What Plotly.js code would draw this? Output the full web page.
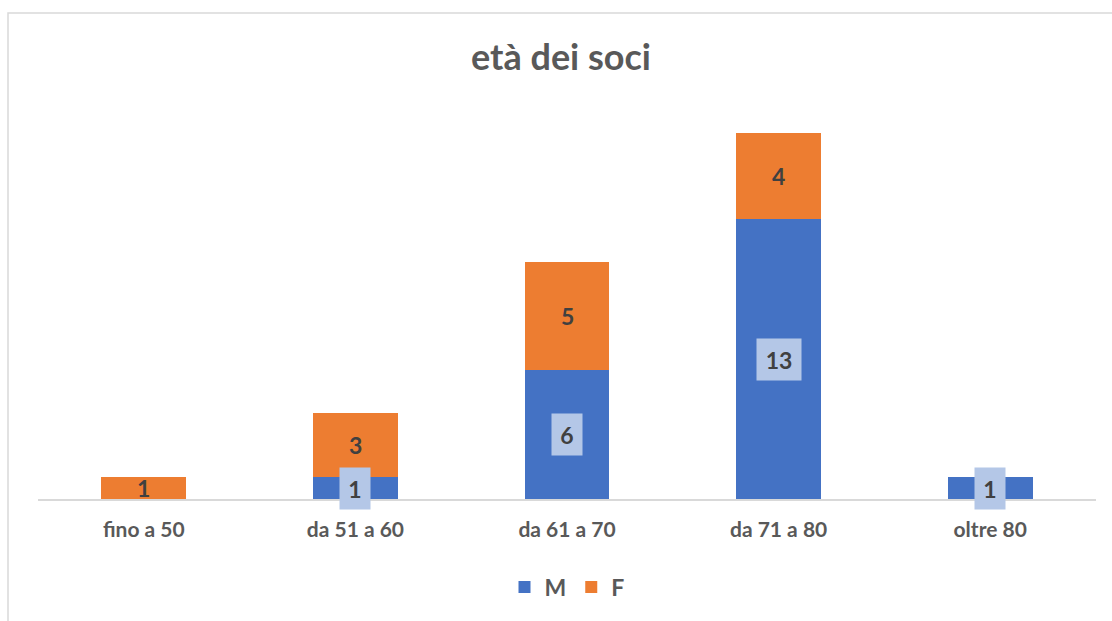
<!DOCTYPE html>
<html>
<head>
<meta charset="utf-8">
<script src="https://cdn.plot.ly/plotly-3.0.1.min.js"></script>
<style>html,body{margin:0;padding:0;background:#fff;}#chart{width:1112px;height:621px;}</style>
</head>
<body>
<div id="chart"></div>
<script>
const categories = ["fino a 50", "da 51 a 60", "da 61 a 70", "da 71 a 80", "oltre 80"];
const valuesM = [0, 1, 6, 13, 1];
const valuesF = [1, 3, 5, 4, 0];
const seriesNames = ["M", "F"];

const FONT = "Lato, 'Open Sans', sans-serif";
const blue = "#4472C4", orange = "#ED7D31";

const traces = [
  {type: "bar", name: seriesNames[0], x: categories, y: valuesM, marker: {color: blue}, hoverinfo: "skip"},
  {type: "bar", name: seriesNames[1], x: categories, y: valuesF, marker: {color: orange}, hoverinfo: "skip"}
];

const annotations = [];
categories.forEach((c, i) => {
  if (valuesM[i] > 0) {
    const t = String(valuesM[i]);
    annotations.push({x: c, y: valuesM[i] / 2, xref: "x", yref: "y", text: "<b>" + t + "</b>",
      showarrow: false, bgcolor: "#B4C7E7", width: t.length > 1 ? 44 : 30, height: 41, borderpad: 0,
      font: {family: FONT, size: 23, color: "#404040"}, valign: "middle"});
  }
  if (valuesF[i] > 0) {
    annotations.push({x: c, y: valuesM[i] + valuesF[i] / 2, xref: "x", yref: "y", text: "<b>" + valuesF[i] + "</b>",
      showarrow: false, font: {family: FONT, size: 23, color: "#404040"}});
  }
});

const L = 38, R = 16, T = 100, B = 122;
const pw = 1112 - L - R, ph = 621 - T - B;
const px = v => (v - L) / pw;
const py = v => (621 - B - v) / ph;

const layout = {
  width: 1112, height: 621,
  margin: {l: L, r: R, t: T, b: B},
  paper_bgcolor: "#fff", plot_bgcolor: "#fff",
  barmode: "stack", bargap: 0.6,
  font: {family: FONT, color: "#595959"},
  title: {text: "<b>età dei soci</b>", font: {family: FONT, size: 36, color: "#595959"},
    xref: "container", yref: "container", x: 561 / 1112, y: 1 - 57 / 621, xanchor: "center", yanchor: "middle"},
  xaxis: {type: "category", showline: true, linecolor: "#D9D9D9", linewidth: 2, ticks: "", showgrid: false,
    tickfont: {family: FONT, size: 21, color: "#595959", weight: "bold"}, ticklabelstandoff: 11, fixedrange: true},
  yaxis: {range: [0, 18.53], visible: false, showgrid: false, zeroline: false, fixedrange: true},
  legend: {orientation: "h", x: 0.5, xanchor: "center", y: py(587), yanchor: "middle",
    font: {family: FONT, size: 23, color: "#595959", weight: "bold"}, traceorder: "normal", itemwidth: 30},
  annotations: annotations,
  shapes: [
    {type: "path", xref: "paper", yref: "paper",
     path: `M ${px(1130)} ${py(13)} L ${px(8)} ${py(13)} L ${px(8)} ${py(640)}`,
     line: {color: "#D9D9D9", width: 1.5}}
  ],
  showlegend: true
};

Plotly.newPlot("chart", traces, layout, {displayModeBar: false, staticPlot: true});
</script>
</body>
</html>
